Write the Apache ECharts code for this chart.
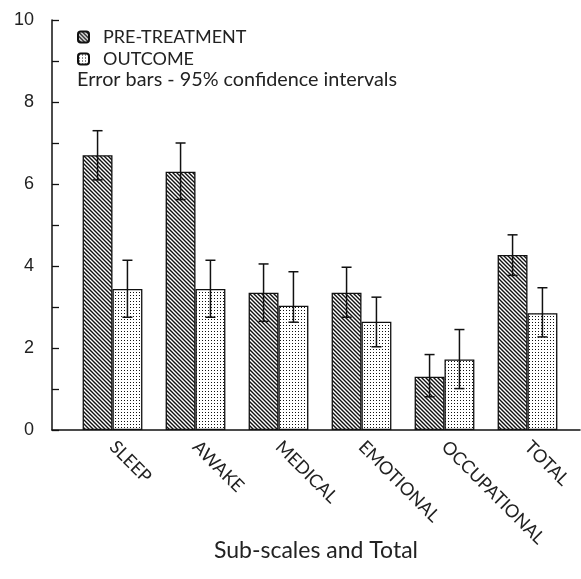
<!DOCTYPE html>
<html>
<head>
<meta charset="utf-8">
<script src="https://cdn.jsdelivr.net/npm/echarts@6/dist/echarts.min.js"></script>
<style>html,body{margin:0;padding:0;background:#fff}#c{width:581px;height:579px}</style>
</head>
<body>
<div id="c"></div>
<script>
const categories = ['SLEEP', 'AWAKE', 'MEDICAL', 'EMOTIONAL', 'OCCUPATIONAL', 'TOTAL'];
const preMean = [6.7, 6.3, 3.35, 3.35, 1.3, 4.27];
const preLow  = [6.1, 5.62, 2.65, 2.75, 0.81, 3.77];
const preHigh = [7.3, 7.0, 4.05, 3.97, 1.84, 4.76];
const outMean = [3.44, 3.44, 3.03, 2.64, 1.72, 2.85];
const outLow  = [2.75, 2.75, 2.63, 2.03, 1.01, 2.27];
const outHigh = [4.14, 4.14, 3.86, 3.24, 2.45, 3.47];
const yTicks = [0, 2, 4, 6, 8, 10];

function hatch() {
  const c = document.createElement('canvas'); c.width = 4; c.height = 4;
  const g = c.getContext('2d');
  g.fillStyle = '#fff'; g.fillRect(0, 0, 4, 4);
  g.strokeStyle = '#111'; g.lineWidth = 1.4;
  g.beginPath();
  g.moveTo(-1, -1); g.lineTo(5, 5);
  g.moveTo(-1, 3); g.lineTo(1, 5);
  g.moveTo(3, -1); g.lineTo(5, 1);
  g.stroke();
  return c;
}
function dots() {
  const c = document.createElement('canvas'); c.width = 3; c.height = 3;
  const g = c.getContext('2d');
  g.fillStyle = '#fff'; g.fillRect(0, 0, 3, 3);
  g.fillStyle = '#111'; g.fillRect(1, 1, 1, 1);
  return c;
}
const hatchPat = { image: hatch(), repeat: 'repeat' };
const dotPat = { image: dots(), repeat: 'repeat' };

function errSeries(name, low, high, frac) {
  return {
    type: 'custom', name: name + ' err', xAxisIndex: 1, yAxisIndex: 1, z: 5,
    data: categories.map((c, i) => [i, low[i], high[i]]),
    renderItem: function (params, api) {
      const i = api.value(0);
      const band = api.size([1, 0])[0];
      const lo = api.coord([i, api.value(1)]);
      const hi = api.coord([i, api.value(2)]);
      const x = lo[0] + frac * band;
      const w = 5;
      const st = { stroke: '#111', lineWidth: 1.5 };
      return { type: 'group', children: [
        { type: 'line', shape: { x1: x, y1: lo[1], x2: x, y2: hi[1] }, style: st },
        { type: 'line', shape: { x1: x - w, y1: hi[1], x2: x + w, y2: hi[1] }, style: st },
        { type: 'line', shape: { x1: x - w, y1: lo[1], x2: x + w, y2: lo[1] }, style: st }
      ]};
    }
  };
}

const chart = echarts.init(document.getElementById('c'), null, { renderer: 'canvas' });
const font = 'Lato';
chart.setOption({
  animation: false,
  backgroundColor: '#fff',
  title: {
    text: 'Error bars - 95% confidence intervals', left: 77, top: 70, padding: 0,
    textStyle: { fontFamily: font, fontWeight: 'normal', fontSize: 19.8, color: '#222' }
  },
  legend: {
    orient: 'vertical', left: 72, top: 23, itemWidth: 11, itemHeight: 11, itemGap: 4,
    data: ['PRE-TREATMENT', 'OUTCOME'],
    textStyle: { fontFamily: font, fontSize: 18, color: '#222', padding: [0, 0, 0, 9] }
  },
  grid: [
    { left: 52, right: 1, top: 20, bottom: 149 },
    { left: 71, width: 498, top: 20, bottom: 149 }
  ],
  xAxis: [
    { gridIndex: 0, type: 'value', min: 0, max: 1,
      axisLine: { show: true, lineStyle: { color: '#111', width: 1.5 } },
      axisTick: { show: false }, axisLabel: { show: false }, splitLine: { show: false },
      name: 'Sub-scales and Total', nameLocation: 'middle', nameGap: 109,
      nameTextStyle: { fontFamily: font, fontSize: 23, color: '#222' } },
    { gridIndex: 1, type: 'category', data: categories,
      axisLine: { show: false }, axisTick: { show: false },
      axisLabel: { rotate: -45, margin: 14, fontFamily: font, fontSize: 18, color: '#222', interval: 0 } }
  ],
  yAxis: [
    { gridIndex: 0, type: 'value', min: 0, max: 10, interval: 1,
      axisLine: { show: true, lineStyle: { color: '#111', width: 1.5 } },
      axisTick: { show: true, inside: true, length: 7, lineStyle: { color: '#111', width: 1.3 } },
      axisLabel: { margin: 18, fontFamily: 'Liberation Sans', fontSize: 18, color: '#222',
        formatter: v => yTicks.includes(v) ? String(v) : '' },
      splitLine: { show: false } },
    { gridIndex: 1, type: 'value', min: 0, max: 10, show: false, splitLine: { show: false } }
  ],
  series: [
    { name: 'PRE-TREATMENT', type: 'bar', xAxisIndex: 1, yAxisIndex: 1, data: preMean,
      barWidth: '36%', barGap: '0%',
      itemStyle: { color: hatchPat, borderColor: '#111', borderWidth: 1.3 } },
    { name: 'OUTCOME', type: 'bar', xAxisIndex: 1, yAxisIndex: 1, data: outMean,
      barWidth: '36%', barGap: '0%',
      itemStyle: { color: dotPat, borderColor: '#111', borderWidth: 1.3 } },
    errSeries('pre', preLow, preHigh, -0.18),
    errSeries('out', outLow, outHigh, 0.18)
  ]
});
</script>
</body>
</html>
